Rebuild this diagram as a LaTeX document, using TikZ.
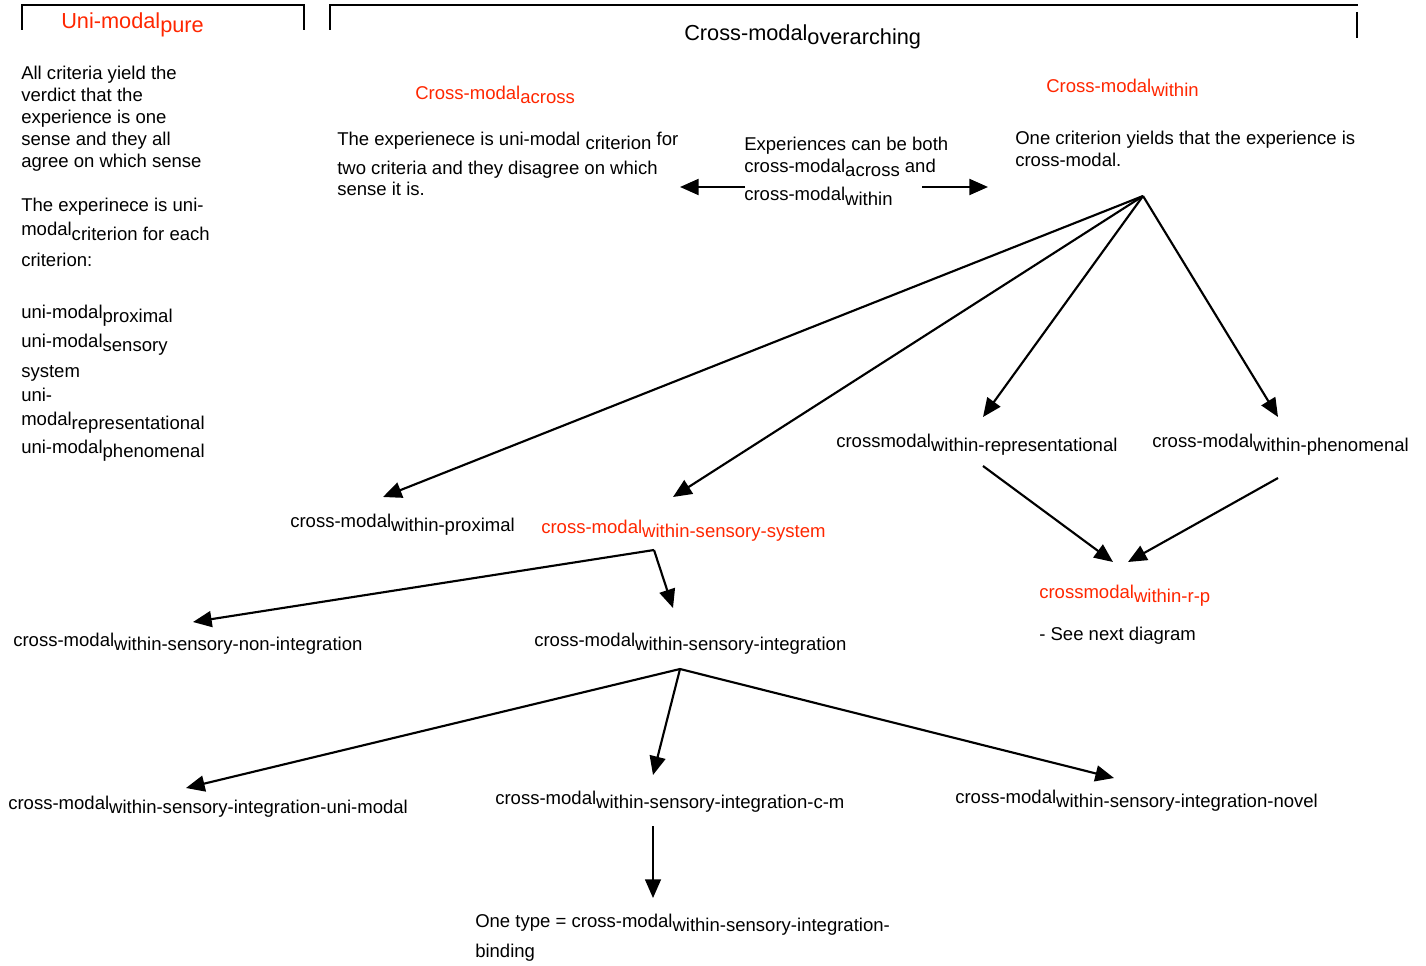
\documentclass[tikz,border=0pt]{standalone}
\usepackage{fontspec}
\setmainfont{Liberation Sans}
\usetikzlibrary{arrows.meta,positioning}
\definecolor{hdred}{RGB}{255,38,0}
\newcommand{\lowsub}[1]{\raisebox{-3pt}{#1}}

\begin{document}
\begin{tikzpicture}[
  x=0.75pt, y=-0.75pt,
  txt/.style={anchor=base west, inner sep=0pt, align=left,
              font=\fontsize{13.9}{16.5}\selectfont},
  head/.style={txt, text=hdred},
  big/.style={anchor=base west, inner sep=0pt,
              font=\fontsize{16.3}{19}\selectfont},
  arr/.style={-{Triangle[length=14pt,width=12pt]}, line width=1.6pt},
  brk/.style={line width=1.4pt},
]
\useasboundingbox (0,0) rectangle (1426,966);

% brackets over the two halves
\draw[brk] (22,30) |- (304,5) -- (304,30);
\draw[brk] (330,30) |- (1358,5);
\draw[brk] (1357,12) -- (1357,38);

\node[big, text=hdred] (pure) at (61,29) {Uni-modal\lowsub{pure}};
\node[big] (over) at (684,41) {Cross-modal\lowsub{overarching}};

% left column (multi-line nodes sit on their last baseline)
\node[txt] (allcrit) at (21,168) {All criteria yield the\\ verdict that the\\
  experience is one\\ sense and they all\\ agree on which sense};
\node[txt] (eachcrit) at (21,266) {The experinece is uni-\\[1.5pt]
  modal\lowsub{criterion for each}\\[6pt] criterion:};
\node[txt] (unilist) at (21,453) {uni-modal\lowsub{proximal}\\[5.25pt]
  uni-modal\lowsub{sensory}\\[6pt] system\\[1.5pt] uni-\\[1.5pt]
  modal\lowsub{representational}\\[4.5pt] uni-modal\lowsub{phenomenal}};

% across / within
\node[head] (across) at (415,100) {Cross-modal\lowsub{across}};
\node[head] (within) at (1046,93) {Cross-modal\lowsub{within}};
\node[txt] (acrosstxt) at (337,196) {The experienece is uni-modal \lowsub{criterion} for\\[4.5pt]
  two criteria and they disagree on which\\ sense it is.};
\node[txt] (both) at (744,201) {Experiences can be both\\
  cross-modal\lowsub{across} and\\[4.5pt] cross-modal\lowsub{within}};
\node[txt] (withintxt) at (1015,167) {One criterion yields that the experience is\\
  cross-modal.};

% within sub-kinds
\node[txt] (wprox) at (290,527) {cross-modal\lowsub{within-proximal}};
\node[head] (wsens) at (541,533) {cross-modal\lowsub{within-sensory-system}};
\node[txt] (wrep) at (836,447) {crossmodal\lowsub{within-representational}};
\node[txt] (wphen) at (1152,447) {cross-modal\lowsub{within-phenomenal}};
\node[head] (wrp) at (1039,598) {crossmodal\lowsub{within-r-p}};
\node[txt] (seenext) at (1039,640) {- See next diagram};
\node[txt] (nonint) at (13,646) {cross-modal\lowsub{within-sensory-non-integration}};
\node[txt] (integ) at (534,646) {cross-modal\lowsub{within-sensory-integration}};
\node[txt] (iuni) at (8,809) {cross-modal\lowsub{within-sensory-integration-uni-modal}};
\node[txt] (icm) at (495,804) {cross-modal\lowsub{within-sensory-integration-c-m}};
\node[txt] (inovel) at (955,803) {cross-modal\lowsub{within-sensory-integration-novel}};
\node[txt] (bind) at (475,957) {One type = cross-modal\lowsub{within-sensory-integration-}\\[6pt]
  binding};

% arrow ends
\coordinate (bothL) at (745,187);
\coordinate (acrossR) at (680,187);
\coordinate (bothR) at (922,187);
\coordinate (withinL) at (988,187);
\coordinate (root) at (1143,196);
\coordinate (toprox) at (383,497);
\coordinate (tosens) at (673,497);
\coordinate (torep) at (983,417);
\coordinate (tophen) at (1278,417);
\coordinate (repout) at (983,466);
\coordinate (phenout) at (1278,478);
\coordinate (torpa) at (1113,562);
\coordinate (torpb) at (1128,562);
\coordinate (sensfork) at (654,550);
\coordinate (tononint) at (193,622);
\coordinate (tointeg) at (673,608);
\coordinate (integfork) at (680,669);
\coordinate (touni) at (186,788);
\coordinate (tocm) at (653,775);
\coordinate (tonovel) at (1114,778);
\coordinate (cmout) at (653,826);
\coordinate (tobind) at (653,898);

\draw[arr] (bothL) -- (acrossR);
\draw[arr] (bothR) -- (withinL);
\draw[arr] (root) -- (toprox);
\draw[arr] (root) -- (tosens);
\draw[arr] (root) -- (torep);
\draw[arr] (root) -- (tophen);
\draw[arr] (repout) -- (torpa);
\draw[arr] (phenout) -- (torpb);
\draw[arr] (sensfork) -- (tononint);
\draw[arr] (sensfork) -- (tointeg);
\draw[arr] (integfork) -- (touni);
\draw[arr] (integfork) -- (tocm);
\draw[arr] (integfork) -- (tonovel);
\draw[arr, line width=1pt] (cmout) -- (tobind);
\end{tikzpicture}
\end{document}
